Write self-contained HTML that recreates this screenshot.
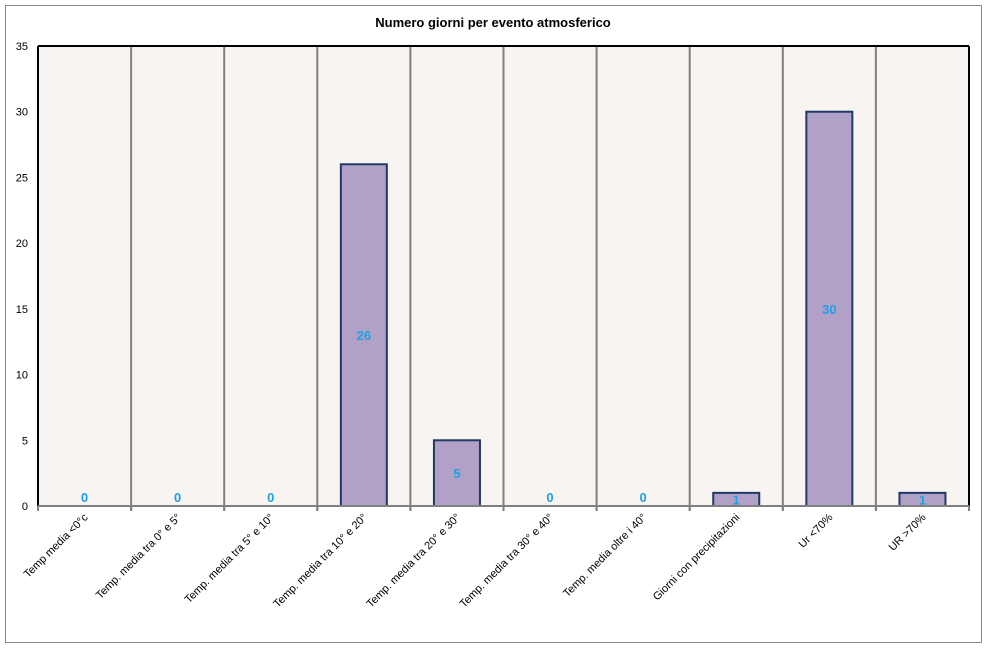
<!DOCTYPE html>
<html><head><meta charset="utf-8"><style>
body{margin:0;background:#fff;font-family:"Liberation Sans",Verdana,sans-serif}
</style></head><body>
<svg width="986" height="647" xmlns="http://www.w3.org/2000/svg" id="chart">
<rect x="5.5" y="5.5" width="976" height="637" fill="#fff" stroke="#888"/>
<text x="493" y="27" text-anchor="middle" font-size="13" font-weight="bold">Numero giorni per evento atmosferico</text>
<g id="plot"></g>
</svg>
<script>
const categories=["Temp media <0°c","Temp. media tra 0° e 5°","Temp. media tra 5° e 10°","Temp. media tra 10° e 20°","Temp. media tra 20° e 30°","Temp. media tra 30° e 40°","Temp. media oltre i 40°","Giorni con precipitazioni","Ur <70%","UR >70%"];
const values=[0,0,0,26,5,0,0,1,30,1];
const yTicks=[0,5,10,15,20,25,30,35];
const NS="http://www.w3.org/2000/svg";
const L=38,R=969,T=46,B=506,yMax=35;
const bw=(R-L)/categories.length;
const y=v=>B-(B-T)*v/yMax;
const x=i=>L+bw*i;
const g=document.getElementById('plot');
function mk(t,a,txt){const e=document.createElementNS(NS,t);for(const k in a)e.setAttribute(k,a[k]);if(txt!==undefined)e.textContent=txt;g.appendChild(e);return e;}
let e=mk('rect',{x:L,y:T,width:R-L,height:B-T,fill:'#f7f4f1'});


for(let i=1;i<categories.length;i++){
 e=mk('line',{x1:x(i),x2:x(i),y1:T,y2:B+5,stroke:'#808080','stroke-width':2});
 
 
}
yTicks.forEach(t=>{
 e=mk('text',{x:L-10,y:y(t)+4,'text-anchor':'end','font-size':11},t);
 
 
});
values.forEach((v,i)=>{
 const cx=x(i)+bw/2;
 if(v>0){
  e=mk('rect',{x:cx-23,y:y(v),width:46,height:B-y(v),fill:'#b2a1c7',stroke:'#1f3864','stroke-width':2});
  
  
 }
 e=mk('text',{x:cx,y:(v>0?(y(v)+B)/2:B-9)+5,'text-anchor':'middle','font-size':13,'font-weight':'bold',fill:'#1ea0e6'},v);
 
 
 e=mk('text',{x:0,y:0,'text-anchor':'end','font-size':11,transform:`translate(${cx+4},${B+12}) rotate(-45)`},categories[i]);
 
 
});
e=mk('line',{x1:L,x2:R,y1:T,y2:T,stroke:'#000','stroke-width':2});


e=mk('line',{x1:R,x2:R,y1:T,y2:B,stroke:'#000','stroke-width':2});


e=mk('line',{x1:L,x2:L,y1:T,y2:B,stroke:'#000','stroke-width':2});


e=mk('line',{x1:L,x2:R,y1:B,y2:B,stroke:'#808080','stroke-width':2});


for(let i=0;i<=categories.length;i++){
 e=mk('line',{x1:x(i),x2:x(i),y1:B,y2:B+5,stroke:'#808080','stroke-width':2});
 
 
}
</script>
</body></html>
